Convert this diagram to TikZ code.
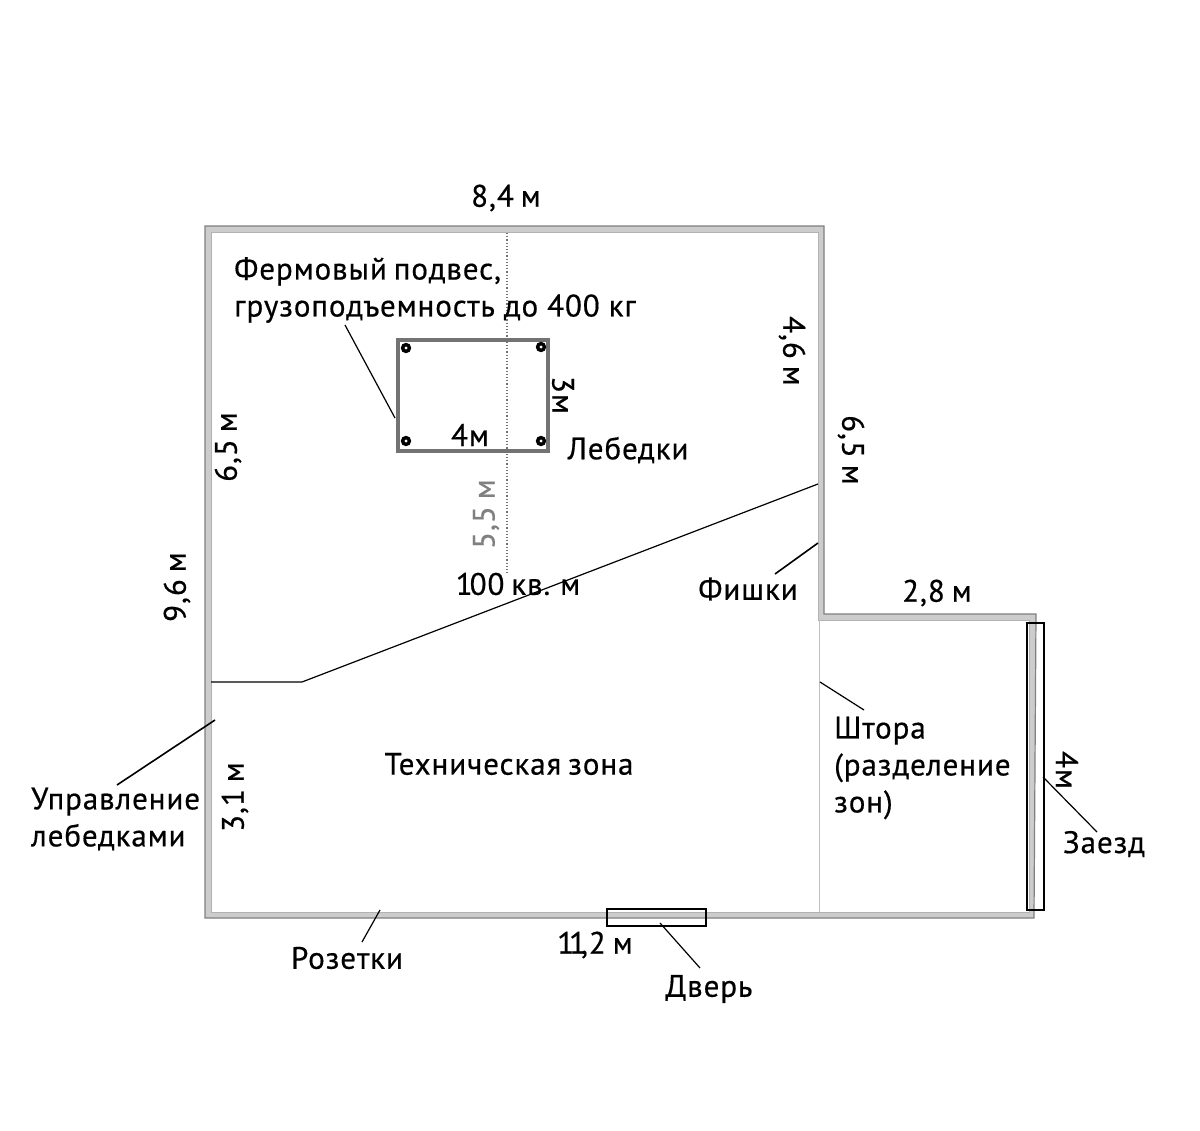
\documentclass[tikz,border=0pt]{standalone}
\usepackage{fontspec}
\setmainfont[LetterSpace=3,FakeBold=0.5]{PT Sans}
\newcommand{\labelfont}{\fontsize{31}{37}\selectfont\spaceskip 7pt\relax}
\begin{document}
\begin{tikzpicture}[x=1pt,y=-1pt,
                    label/.style={inner sep=0pt,font=\labelfont},
                    leader/.style={black,line width=1.2pt},
                    wallfill/.style={fill=black!20,even odd rule},
                    wallout/.style={draw=black!50,line width=1.2pt},
                    wallin/.style={draw=black!30,line width=1pt},
                    frame/.style={draw=black,line width=1.2pt}]
  \useasboundingbox (0,0) rectangle (1200,1131);
  \fill[white] (0,0) rectangle (1200,1131);

  % walls
  \path[wallfill] (205,226) -- (824,226) -- (824,614) -- (1036,614) -- (1034,918) -- (205,918) -- cycle
                  (211,233) -- (818,233) -- (818,620) -- (1029,620) -- (1029,912) -- (211,912) -- cycle;
  \draw[wallout] (205,226) -- (824,226) -- (824,614) -- (1036,614) -- (1034,918) -- (205,918) -- cycle;
  \draw[wallin] (211,233) -- (818,233) -- (818,620) -- (1029,620) -- (1029,912) -- (211,912) -- cycle;
  \draw[black!25,line width=1pt] (819,620) -- (819,912);
  \draw[black!55,line width=1.2pt,dotted] (507,233) -- (507,575);

  % truss
  \draw[black!55,line width=4pt] (398,340) rectangle (548,451);
  \foreach \px/\py in {406/348,541/347,406/441,541/441}
    \draw[black,line width=3.4pt] (\px,\py) circle (3.4);

  \node[frame,minimum width=99pt,minimum height=17pt,inner sep=0pt] (door) at (656.5,917.5) {};
  \node[frame,minimum width=17pt,minimum height=287pt,inner sep=0pt] (entry) at (1035.5,766.5) {};

  % labels
  \node[label] (top)    at (506,198) {8,4 м};
  \node[label,align=left,anchor=west] (truss) at (234,290) {Фермовый подвес,\\грузоподъемность\kern2pt\ до\kern2pt\ 400\kern2pt\ кг};
  \node[label] (winch)  at (628,450) {Лебедки};
  \node[label] (area)   at (518,584) {1\kern-3pt 00 кв. м};
  \node[label] (chips)  at (748,589) {Фишки};
  \node[label] (step)   at (937,593) {2,8 м};
  \node[label,align=left,anchor=west] (curtain) at (834,768) {Штора\\(разделение\\зон)};
  \node[label] (tech)   at (509,764) {Техническая зона};
  \node[label,align=left,anchor=west] (control) at (31,819) {Управление\\лебедками};
  \node[label] (drive)  at (1104,844) {Заезд};
  \node[label] (socket) at (347,958) {Розетки};
  \node[label] (bottom) at (595,945) {1\kern-5pt 1\kern-5pt ,2 м};
  \node[label] (doorl)  at (709,989) {Дверь};
  \node[label] (trussw) at (470,435) {4м};
  \node[label,rotate=90] (leftb)  at (228,447) {6,5 м};
  \node[label,rotate=90] (leftall) at (177,587) {9,6 м};
  \node[label,rotate=90] (leftc)  at (235,797) {3,1 м};
  \node[label,rotate=90,black!50] (mid) at (486,514) {5,5 м};
  \node[label,rotate=-90] (righta) at (792,351) {4,6 м};
  \node[label,rotate=-90] (rightb) at (851,450) {6,5 м};
  \node[label,rotate=-90] (trussh) at (563,395) {3м};
  \node[label,rotate=-90] (entryw) at (1067,770) {4м};

  % leaders
  \coordinate (trussA) at (345,325);
  \coordinate (trussB) at (395,418);
  \draw[leader] (trussA) -- (trussB);
  \coordinate (zoneA) at (211,682);
  \coordinate (zoneB) at (302,682);
  \coordinate (zoneC) at (818,484);
  \draw[leader] (zoneA) -- (zoneB) -- (zoneC);
  \coordinate (chipsA) at (775,574);
  \coordinate (chipsB) at (818,543);
  \draw[leader,line width=1.6pt] (chipsA) -- (chipsB);
  \coordinate (curtainA) at (820,682);
  \coordinate (curtainB) at (864,710);
  \draw[leader] (curtainA) -- (curtainB);
  \coordinate (controlA) at (117,785);
  \coordinate (controlB) at (215,720);
  \draw[leader,line width=1.6pt] (controlA) -- (controlB);
  \coordinate (socketA) at (362,942);
  \coordinate (socketB) at (380,910);
  \draw[leader] (socketA) -- (socketB);
  \coordinate (doorA) at (660,923);
  \coordinate (doorB) at (700,968);
  \draw[leader] (doorA) -- (doorB);
  \coordinate (driveA) at (1043,777);
  \coordinate (driveB) at (1097,832);
  \draw[leader] (driveA) -- (driveB);
\end{tikzpicture}
\end{document}
